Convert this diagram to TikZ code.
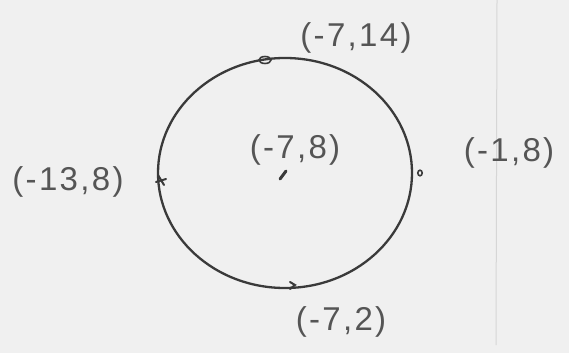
\documentclass[tikz,border=0pt]{standalone}
\usepackage{fontspec}
\setmainfont{Liberation Sans}
\usetikzlibrary{calc}
\definecolor{paper}{HTML}{F0F0F0}
\definecolor{ink}{HTML}{3A3A3A}
\definecolor{pencil}{HTML}{555555}
\begin{document}
\begin{tikzpicture}[x=1pt,y=-1pt,
  lbl/.style={text=pencil,font=\fontsize{33}{35}\selectfont\addfontfeature{LetterSpace=7},inner sep=0pt},
  tick/.style={draw=ink,line width=2pt,line cap=round}]
\fill[paper] (0,0) rectangle (569,353);
\useasboundingbox (0,0) rectangle (569,353);
\draw[black!16,line width=1pt] (497,0) -- (496,345);
\draw[ink,line width=2.3pt] (285,173) ellipse [x radius=127,y radius=115];
\coordinate (C) at (283,175);
\coordinate (R) at (420,173);
\coordinate (L) at (161,180);
\coordinate (T) at (265,60);
\coordinate (B) at (292,286);
\draw[tick,line width=3pt] ($(C)+(-3,4)$) -- ($(C)+(3,-4)$);
\draw[tick,line width=1.6pt] (R) ellipse [x radius=2.2,y radius=2.8];
\draw[tick] ($(L)+(-3,-5)$) -- ($(L)+(3,5)$) ($(L)+(-5,2)$) -- ($(L)+(5,-1)$);
\draw[tick,line width=1.6pt] (T) ellipse [x radius=6,y radius=3.5];
\draw[tick] ($(B)+(-2,-4)$) -- ($(B)+(3,-1)$) -- ($(B)+(-2,3)$);
\node[lbl] (lT) at (356,38) {(-7,14)};
\node[lbl] (lC) at (295,150) {(-7,8)};
\node[lbl] (lR) at (509,153) {(-1,8)};
\node[lbl] (lL) at (68,182) {(-13,8)};
\node[lbl] (lB) at (341,322) {(-7,2)};
\end{tikzpicture}
\end{document}
